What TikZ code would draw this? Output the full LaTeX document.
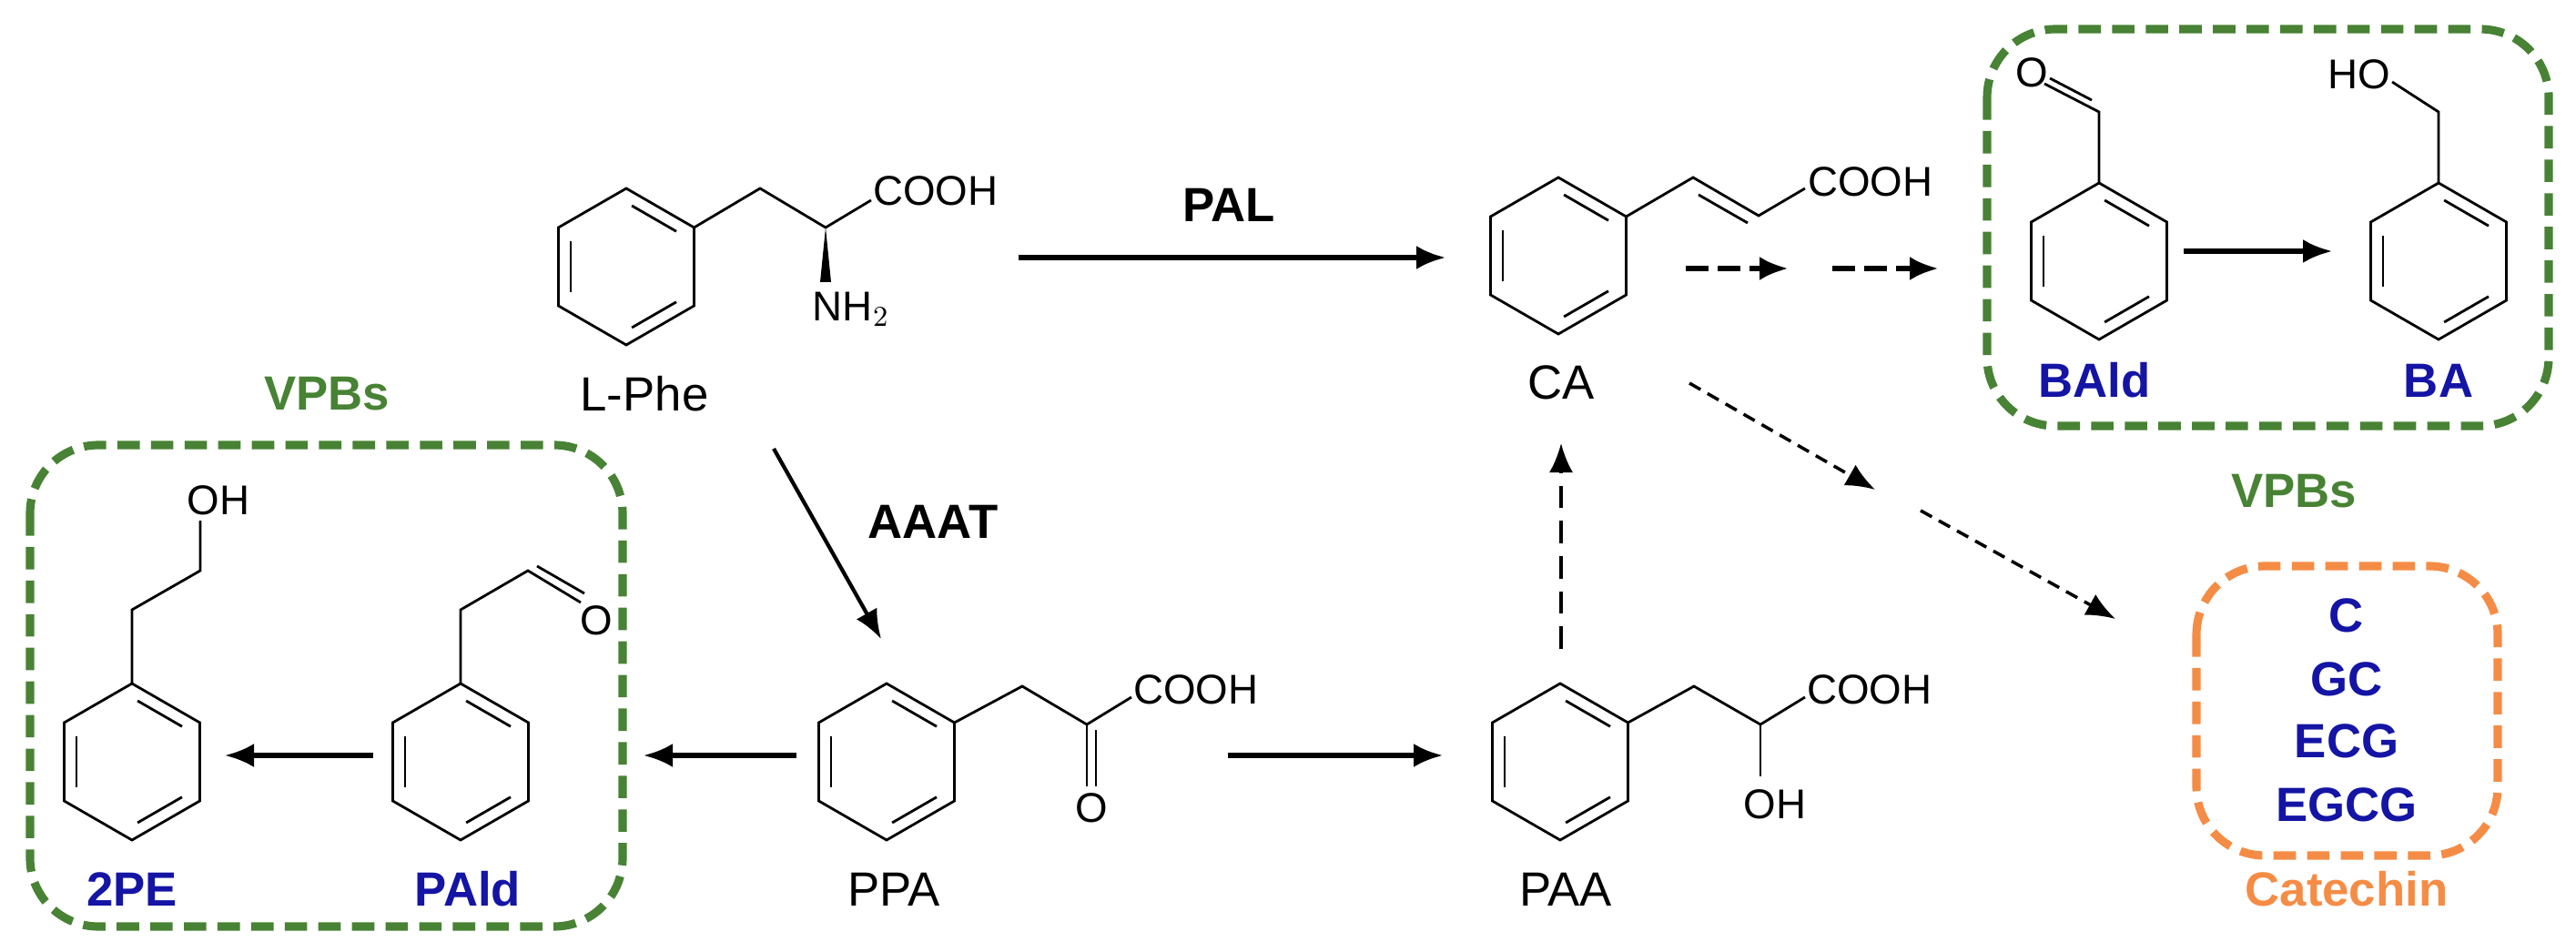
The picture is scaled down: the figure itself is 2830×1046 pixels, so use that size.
\documentclass[tikz,border=0pt]{standalone}
\usepackage{fontspec}
\setmainfont{Liberation Sans}
\usetikzlibrary{arrows.meta,calc}
\definecolor{vgreen}{RGB}{72,130,52}
\definecolor{cblue}{RGB}{20,20,165}
\definecolor{corange}{RGB}{245,140,70}
\newcommand\benz[2]{%
  \coordinate (#1-c) at (#2);
  \coordinate (#1-1) at ($(#2)+(0,-86)$);
  \coordinate (#1-2) at ($(#2)+(74.5,-43)$);
  \coordinate (#1-3) at ($(#2)+(74.5,43)$);
  \coordinate (#1-4) at ($(#2)+(0,86)$);
  \coordinate (#1-5) at ($(#2)+(-74.5,43)$);
  \coordinate (#1-6) at ($(#2)+(-74.5,-43)$);
  \draw[bond] (#1-1)--(#1-2)--(#1-3)--(#1-4)--(#1-5)--(#1-6)--cycle;
  \draw[bond] ($(#1-c)!0.82!(#1-1)$) ++(0,0) coordinate (#1-a1) ($(#1-c)!0.82!(#1-2)$) coordinate (#1-a2)
    ($(#1-c)!0.82!(#1-3)$) coordinate (#1-a3) ($(#1-c)!0.82!(#1-4)$) coordinate (#1-a4)
    ($(#1-c)!0.82!(#1-5)$) coordinate (#1-a5) ($(#1-c)!0.82!(#1-6)$) coordinate (#1-a6);
  \draw[bond] ($(#1-a1)!0.1!(#1-a2)$)--($(#1-a1)!0.9!(#1-a2)$);
  \draw[bond] ($(#1-a3)!0.1!(#1-a4)$)--($(#1-a3)!0.9!(#1-a4)$);
  \draw[bond] ($(#1-a5)!0.1!(#1-a6)$)--($(#1-a5)!0.9!(#1-a6)$);
}
\tikzset{
  bond/.style={line width=0.8pt,line join=miter},
  atom/.style={font=\fontsize{13}{15}\selectfont,inner sep=1pt},
  lab/.style={font=\fontsize{15}{17}\selectfont,inner sep=1pt},
  blab/.style={font=\fontsize{15}{17}\selectfont\bfseries,text=cblue,inner sep=1pt},
  glab/.style={font=\fontsize{15}{17}\selectfont\bfseries,text=vgreen,inner sep=1pt},
  elab/.style={font=\fontsize{15}{17}\selectfont\bfseries,inner sep=1pt},
  rx/.style={line width=1.5pt,-{Latex[length=0.32cm,width=0.26cm]}},
  drx/.style={line width=1.8pt,dash pattern=on 7pt off 3pt,-{Latex[length=0.32cm,width=0.26cm]}},
  thd/.style={line width=1pt,dash pattern=on 4pt off 2.5pt,-{Latex[length=0.32cm,width=0.26cm]}},
  vthd/.style={line width=1pt,dash pattern=on 7pt off 4pt,-{Latex[length=0.32cm,width=0.26cm]}},
  gbox/.style={draw=vgreen,line width=2.6pt,dash pattern=on 7pt off 3.5pt,rounded corners=0.75cm},
  obox/.style={draw=corange,line width=2.6pt,dash pattern=on 7pt off 3.5pt,rounded corners=0.75cm},
}
\begin{document}
\begin{tikzpicture}[x=0.01cm,y=-0.01cm]
\useasboundingbox (0,0) rectangle (2830,1046);
% ---------- L-Phe
\benz{phe}{688,293}
\coordinate (phe-ch2) at (835,207);
\coordinate (phe-ca) at (907,250);
\coordinate (phe-co) at (957,220);
\draw[bond] (phe-2)--(phe-ch2)--(phe-ca)--(phe-co);
\fill (phe-ca) -- (901,310) -- (913,310) -- cycle;
\node[atom,anchor=west] (pheCOOH) at (955,210) {COOH};
\node[atom] (pheNH) at (935,340) {NH$_2$};
\node[lab] (lphe) at (708,433) {L-Phe};
% ---------- CA
\benz{ca}{1712,281}
\coordinate (ca-a) at (1860,195);
\coordinate (ca-b) at (1932,237);
\coordinate (ca-co) at (1983,207);
\draw[bond] (ca-2)--(ca-a)--(ca-b)--(ca-co);
\draw[bond] (1866,214)--(1920,245);
\node[atom,anchor=west] (caCOOH) at (1982,200) {COOH};
\node[lab] (calab) at (1715,420) {CA};
% PAL
\coordinate (palS) at (1119,283);
\coordinate (palE) at (1588,283);
\draw[rx] (palS)--(palE);
\node[elab] (pal) at (1350,225) {PAL};
% dashed short arrows
\coordinate (d1s) at (1852,295); \coordinate (d1e) at (1965,295);
\coordinate (d2s) at (2013,295); \coordinate (d2e) at (2130,295);
\draw[drx] (d1s)--(d1e);
\draw[drx] (d2s)--(d2e);
% ---------- right VPB box
\draw[gbox] (2183,32) rectangle (2800,468);
\benz{bald}{2306,287}
\coordinate (bald-ch) at (2306,123);
\coordinate (bald-o) at (2246,92);
\draw[bond] (bald-1)--(bald-ch)--(bald-o);
\draw[bond] (2298,110)--(2252,86);
\node[atom] (baldO) at (2232,80) {O};
\benz{ba}{2679,287}
\coordinate (ba-ch) at (2679,123);
\coordinate (ba-o) at (2628,90);
\draw[bond] (ba-1)--(ba-ch)--(ba-o);
\node[atom,anchor=east] (baHO) at (2630,82) {HO};
\coordinate (bbS) at (2399,276); \coordinate (bbE) at (2562,276);
\draw[rx] (bbS)--(bbE);
\node[blab] (baldlab) at (2301,418) {BAld};
\node[blab] (balab) at (2679,418) {BA};
\node[glab] (vpbR) at (2520,540) {VPBs};
% ---------- AAAT
\coordinate (aaS) at (850,493); \coordinate (aaE) at (968,702);
\draw[rx,line width=1.2pt] (aaS)--(aaE);
\node[elab] (aaat) at (1025,573) {AAAT};
% ---------- left VPB box
\node[glab] (vpbL) at (359,433) {VPBs};
\draw[gbox] (33,489) rectangle (684,1018);
\benz{pe}{145,837}
\coordinate (pe-a) at (145,670);
\coordinate (pe-b) at (220,627);
\coordinate (pe-o) at (220,572);
\draw[bond] (pe-1)--(pe-a)--(pe-b)--(pe-o);
\node[atom] (peOH) at (240,550) {OH};
\benz{pald}{506,837}
\coordinate (pald-a) at (506,670);
\coordinate (pald-b) at (580,627);
\coordinate (pald-o) at (638,662);
\draw[bond] (pald-1)--(pald-a)--(pald-b)--(pald-o);
\draw[bond] (590,622)--(642,652);
\node[atom] (paldO) at (655,682) {O};
\coordinate (a1S) at (410,830); \coordinate (a1E) at (247,830);
\draw[rx] (a1S)--(a1E);
\coordinate (a2S) at (875,830); \coordinate (a2E) at (707,830);
\draw[rx] (a2S)--(a2E);
\node[blab] (pelab) at (145,977) {2PE};
\node[blab] (paldlab) at (514,977) {PAld};
% ---------- PPA
\benz{ppa}{974,837}
\coordinate (ppa-a) at (1123,754);
\coordinate (ppa-b) at (1194,796);
\coordinate (ppa-co) at (1243,766);
\draw[bond] (ppa-2)--(ppa-a)--(ppa-b)--(ppa-co);
\draw[bond] (ppa-b)--(1194,864);
\draw[bond] (1204,802)--(1204,864);
\node[atom] (ppaO) at (1199,888) {O};
\node[atom,anchor=west] (ppaCOOH) at (1241,758) {COOH};
\node[lab] (ppalab) at (982,977) {PPA};
\coordinate (a3S) at (1349,830); \coordinate (a3E) at (1585,830);
\draw[rx] (a3S)--(a3E);
% ---------- PAA
\benz{paa}{1714,837}
\coordinate (paa-a) at (1861,754);
\coordinate (paa-b) at (1934,796);
\coordinate (paa-co) at (1983,766);
\coordinate (paa-o) at (1934,853);
\draw[bond] (paa-2)--(paa-a)--(paa-b)--(paa-co);
\draw[bond] (paa-b)--(paa-o);
\node[atom] (paaOH) at (1950,884) {OH};
\node[atom,anchor=west] (paaCOOH) at (1981,758) {COOH};
\node[lab] (paalab) at (1720,977) {PAA};
\coordinate (vS) at (1715,713); \coordinate (vE) at (1715,487);
\draw[vthd] (vS)--(vE);
% diagonals
\coordinate (g1S) at (1856,421); \coordinate (g1E) at (2060,538);
\coordinate (g2S) at (2110,561); \coordinate (g2E) at (2324,680);
\draw[thd] (g1S)--(g1E);
\draw[thd] (g2S)--(g2E);
% ---------- Catechin box
\draw[obox] (2413,622) rectangle (2744,940);
\node[blab] (cC) at (2578,676) {C};
\node[blab] (cGC) at (2578,746) {GC};
\node[blab] (cECG) at (2578,814) {ECG};
\node[blab] (cEGCG) at (2578,884) {EGCG};
\node[font=\fontsize{15}{17}\selectfont\bfseries,text=corange] (catlab) at (2578,977) {Catechin};
\end{tikzpicture}
\end{document}
